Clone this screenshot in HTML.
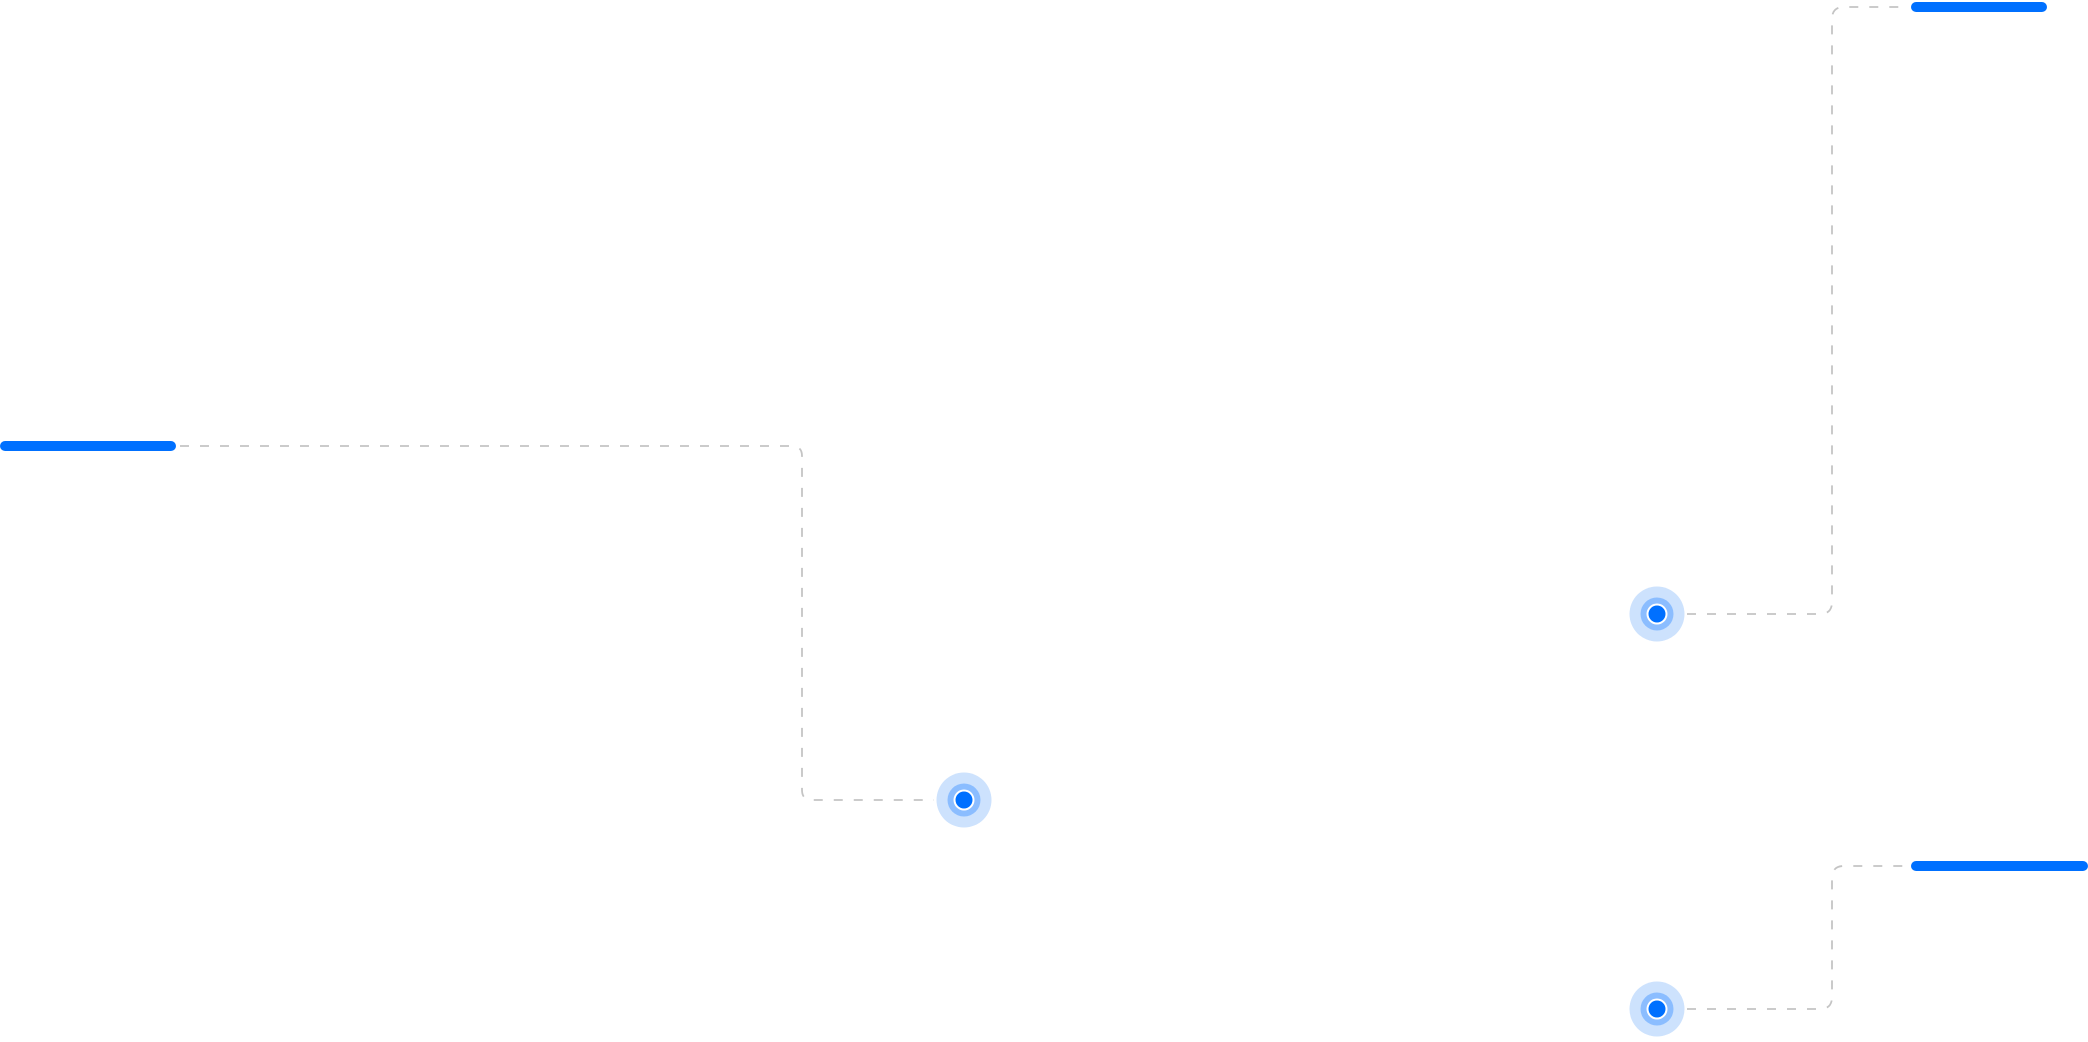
<!DOCTYPE html>
<html><head><meta charset="utf-8"><style>html,body{margin:0;padding:0;background:#fff;width:2088px;height:1042px;overflow:hidden}</style></head>
<body>
<svg width="2088" height="1042" viewBox="0 0 2088 1042" xmlns="http://www.w3.org/2000/svg">
<g fill="none" stroke="#c4c4c4" stroke-width="1.8" stroke-dasharray="9 11">
<path d="M180 446 H792 Q802 446 802 456 V790 Q802 800 812 800 H934"/>
<path d="M1687 614 H1820 Q1832 614 1832 602 V19 Q1832 7 1844 7 H1908"/>
<path d="M1687 1009 H1820 Q1832 1009 1832 997 V878 Q1832 866 1844 866 H1908"/>
</g>
<g stroke="#0070ff" stroke-width="10" stroke-linecap="round">
<line x1="5" y1="446" x2="171" y2="446"/>
<line x1="1916" y1="7" x2="2042" y2="7"/>
<line x1="1916" y1="866" x2="2083" y2="866"/>
</g>
<g>
<circle cx="964" cy="800" r="27.5" fill="#cde2fd"/><circle cx="964" cy="800" r="16.5" fill="#8bbdff"/><circle cx="964" cy="800" r="10.5" fill="#fff"/><circle cx="964" cy="800" r="8.5" fill="#0070ff"/>
<circle cx="1657" cy="614" r="27.5" fill="#cde2fd"/><circle cx="1657" cy="614" r="16.5" fill="#8bbdff"/><circle cx="1657" cy="614" r="10.5" fill="#fff"/><circle cx="1657" cy="614" r="8.5" fill="#0070ff"/>
<circle cx="1657" cy="1009" r="27.5" fill="#cde2fd"/><circle cx="1657" cy="1009" r="16.5" fill="#8bbdff"/><circle cx="1657" cy="1009" r="10.5" fill="#fff"/><circle cx="1657" cy="1009" r="8.5" fill="#0070ff"/>
</g>
</svg>
</body></html>
